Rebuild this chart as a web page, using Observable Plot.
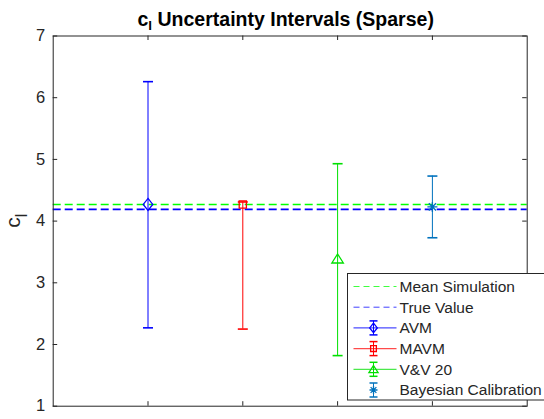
<!DOCTYPE html>
<html>
<head>
<meta charset="utf-8">
<script src="https://cdn.jsdelivr.net/npm/d3@7"></script>
<script src="https://cdn.jsdelivr.net/npm/@observablehq/plot@0.6"></script>
<style>
  body { margin: 0; background: #fff; }
  #chart { position: relative; width: 544px; height: 419px; overflow: hidden; }
  #chart svg { overflow: visible; }
</style>
</head>
<body>
<div id="chart"></div>
<script>
// Uncertainty intervals of the lift coefficient c_l for the sparse-data case
const methods   = ["AVM", "MAVM", "V&V 20", "Bayesian Calibration"];
const positions = [1, 2, 3, 4];
const centers   = [4.27, 4.27, 3.39, 4.23];
const lowers    = [2.27, 2.25, 1.82, 3.73];
const uppers    = [6.26, 4.31, 4.93, 4.73];
const colors    = ["#0000ff", "#ff0000", "#00e000", "#0072bd"];

const meanSimulation = 4.27;
const trueValue = 4.19;

const yTicks = [1, 2, 3, 4, 5, 6, 7];
const xTicks = [1, 2, 3, 4];
const xDomain = [0, 5];
const yDomain = [1, 7];

const W = 544, H = 419;
const M = {left: 52.7, right: 17.3, top: 35.5, bottom: 13.3};
const frameW = W - M.left - M.right;
const frameH = H - M.top - M.bottom;
const tickLen = 4.5;
const font = "'Liberation Sans', Arial, Helvetica, sans-serif";

// MATLAB-style marker shapes (size = pi r^2)
const rad = (size) => Math.sqrt(size / Math.PI);
const capSymbol = {draw(ctx, size) { const r = rad(size); ctx.moveTo(-r, 0); ctx.lineTo(r, 0); }};
const diamondSymbol = {draw(ctx, size) {
  const r = rad(size);
  ctx.moveTo(0, -r * 1.2); ctx.lineTo(r * 0.95, 0); ctx.lineTo(0, r * 1.2); ctx.lineTo(-r * 0.95, 0); ctx.closePath();
}};
const squareSymbol = {draw(ctx, size) {
  const r = rad(size) * 0.72;
  ctx.moveTo(-r, -r); ctx.lineTo(r, -r); ctx.lineTo(r, r); ctx.lineTo(-r, r); ctx.closePath();
}};
const triangleSymbol = {draw(ctx, size) {
  const r = rad(size);
  ctx.moveTo(0, -r * 0.95); ctx.lineTo(r * 1.15, r * 0.85); ctx.lineTo(-r * 1.15, r * 0.85); ctx.closePath();
}};
const asteriskSymbol = {draw(ctx, size) {
  const r = rad(size);
  ctx.moveTo(-r, 0); ctx.lineTo(r, 0);
  ctx.moveTo(0, -r); ctx.lineTo(0, r);
  const d = r * 0.72;
  ctx.moveTo(-d, -d); ctx.lineTo(d, d);
  ctx.moveTo(-d, d); ctx.lineTo(d, -d);
}};
const symbols = [diamondSymbol, squareSymbol, triangleSymbol, asteriskSymbol];

const rows = methods.map((m, i) => ({
  method: m, pos: positions[i], center: centers[i], lo: lowers[i], hi: uppers[i],
  color: colors[i], symbol: symbols[i]
}));

const plot = Plot.plot({
  width: W, height: H,
  marginLeft: M.left, marginRight: M.right, marginTop: M.top, marginBottom: M.bottom,
  x: {domain: xDomain, axis: null},
  y: {domain: yDomain, axis: null},
  color: {type: "identity"},
  style: {fontFamily: font, background: "#fff"},
  marks: [
    Plot.ruleY([meanSimulation], {stroke: "#00ff00", strokeWidth: 1.4, strokeDasharray: "8,4"}),
    Plot.ruleY([trueValue], {stroke: "#0000ff", strokeWidth: 1.6, strokeDasharray: "8,4"}),
    Plot.ruleX(rows, {x: "pos", y1: "lo", y2: "hi", stroke: "color", strokeWidth: 1}),
    Plot.dot(rows, {x: "pos", y: "lo", symbol: capSymbol, r: 5, stroke: "color", strokeWidth: 1.6}),
    Plot.dot(rows, {x: "pos", y: "hi", symbol: capSymbol, r: 5, stroke: "color", strokeWidth: 1.6}),
    ...rows.map(d => Plot.dot([d], {x: "pos", y: "center", symbol: d.symbol, r: 5, stroke: "color", fill: "none", strokeWidth: 1.3})),
    // box and inward ticks
    Plot.frame({stroke: "#262626", strokeWidth: 1}),
    Plot.tickY(yTicks, {y: d => d, insetRight: frameW - tickLen, stroke: "#262626"}),
    Plot.tickY(yTicks, {y: d => d, insetLeft: frameW - tickLen, stroke: "#262626"}),
    Plot.tickX(xTicks, {x: d => d, insetTop: frameH - tickLen, stroke: "#262626"}),
    Plot.tickX(xTicks, {x: d => d, insetBottom: frameH - tickLen, stroke: "#262626"}),
    Plot.axisY(yTicks, {tickSize: 0, tickPadding: 8, fontSize: 16.5, color: "#262626", label: null, tickFormat: d3.format("d")})
  ]
});

document.getElementById("chart").appendChild(plot);
const svg = d3.select(plot);

// Title with subscript
const title = svg.append("text")
  .attr("x", M.left + frameW / 2 - 4).attr("y", 26)
  .attr("text-anchor", "middle")
  .attr("font-family", font).attr("font-size", 19.5).attr("font-weight", "bold")
  .attr("fill", "#000");
title.append("tspan").text("c");
title.append("tspan").attr("dy", 4).attr("font-size", 13.5).text("l");
title.append("tspan").attr("dy", -4).text(" Uncertainty Intervals (Sparse)");

// Y axis label
const ylab = svg.append("text")
  .attr("transform", `translate(20,${M.top + frameH / 2}) rotate(-90)`)
  .attr("text-anchor", "middle")
  .attr("font-family", font).attr("font-size", 21).attr("fill", "#262626");
ylab.append("tspan").text("c");
ylab.append("tspan").attr("dy", 7).attr("font-size", 16).text("l");

// Legend
const legendItems = [
  {label: "Mean Simulation", color: "#00ff00", dash: true},
  {label: "True Value", color: "#0000ff", dash: true},
  ...rows.map(d => ({label: d.method, color: d.color, symbol: d.symbol, line: d.method !== "Bayesian Calibration"}))
];
const lg = svg.append("g").attr("transform", "translate(347.5,273.5)");
lg.append("rect").attr("width", 210).attr("height", 126.5)
  .attr("fill", "#fff").attr("stroke", "#262626").attr("stroke-width", 1);
const rowH = 20.7, row0 = 13;
legendItems.forEach((it, i) => {
  const g = lg.append("g").attr("transform", `translate(0,${row0 + i * rowH})`);
  if (it.dash) {
    g.append("line").attr("x1", 6).attr("x2", 49).attr("stroke", it.color)
      .attr("stroke-width", 1).attr("stroke-dasharray", "6,4").attr("opacity", 0.75);
  } else {
    if (it.line) g.append("line").attr("x1", 6).attr("x2", 49).attr("stroke", it.color).attr("stroke-width", 1.2).attr("opacity", 0.7);
    g.append("line").attr("x1", 26).attr("x2", 26).attr("y1", -7).attr("y2", 7).attr("stroke", it.color).attr("stroke-width", 1);
    g.append("line").attr("x1", 22).attr("x2", 30).attr("y1", -7).attr("y2", -7).attr("stroke", it.color).attr("stroke-width", 1.5);
    g.append("line").attr("x1", 22).attr("x2", 30).attr("y1", 7).attr("y2", 7).attr("stroke", it.color).attr("stroke-width", 1.5);
    const p = d3.path();
    it.symbol.draw(p, Math.PI * 16);
    g.append("path").attr("transform", "translate(26,0)").attr("d", p.toString())
      .attr("fill", "none").attr("stroke", it.color).attr("stroke-width", 1.3);
  }
  g.append("text").attr("x", 52).attr("y", 0).attr("dy", "0.35em")
    .attr("text-anchor", "start")
    .attr("font-family", font).attr("font-size", 15.5).attr("fill", "#262626").text(it.label);
});
</script>
</body>
</html>
